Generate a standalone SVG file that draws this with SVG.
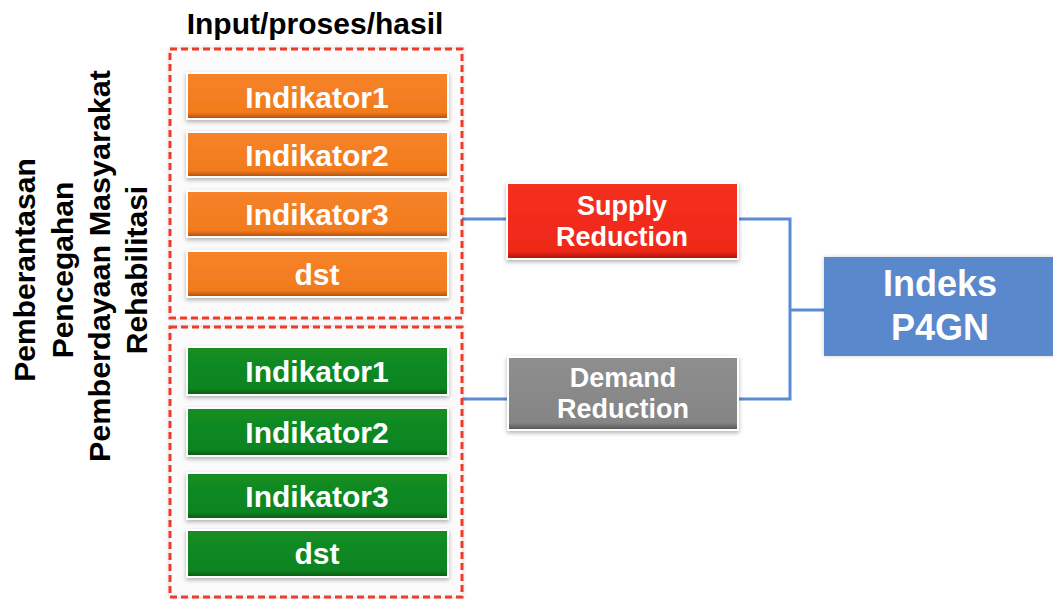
<svg xmlns="http://www.w3.org/2000/svg" width="1053" height="599" viewBox="0 0 1053 599">
  <style>
    .lbl { font-family: "Liberation Sans", Arial, sans-serif; font-weight: bold; fill: #ffffff; text-anchor: middle; }
    .dark { font-family: "Liberation Sans", Arial, sans-serif; font-weight: bold; fill: #000000; text-anchor: middle; font-size: 30px; }
    .row { font-size: 30px; }
    .mid { font-size: 27px; }
    .big { font-size: 36px; }
    .frame { fill: #fbfbfb; stroke: #ee3a2c; stroke-width: 3; stroke-dasharray: 7 4; }
    .wire { fill: none; stroke: #5b8bd1; stroke-width: 3; }
    .box { stroke: #ffffff; stroke-width: 2; filter: url(#shadow); }
  </style>
  <defs>
    <filter id="shadow" x="-10%" y="-20%" width="120%" height="150%">
      <feDropShadow dx="0" dy="2" stdDeviation="2" flood-color="#000000" flood-opacity="0.3"/>
    </filter>
    <filter id="haze" x="-5%" y="-5%" width="110%" height="110%">
      <feDropShadow dx="0" dy="0" stdDeviation="2" flood-color="#000000" flood-opacity="0.18"/>
    </filter>
    <linearGradient id="gOrange" x1="0" y1="0" x2="0" y2="1">
      <stop offset="0" stop-color="#f6832a"/>
      <stop offset="0.86" stop-color="#f27a1c"/>
      <stop offset="0.93" stop-color="#cf6414"/>
      <stop offset="1" stop-color="#a44e0e"/>
    </linearGradient>
    <linearGradient id="gGreen" x1="0" y1="0" x2="0" y2="1">
      <stop offset="0" stop-color="#138d23"/>
      <stop offset="0.86" stop-color="#0e8420"/>
      <stop offset="0.93" stop-color="#0a6c17"/>
      <stop offset="1" stop-color="#075510"/>
    </linearGradient>
    <linearGradient id="gRed" x1="0" y1="0" x2="0" y2="1">
      <stop offset="0" stop-color="#f5301f"/>
      <stop offset="0.9" stop-color="#ee2818"/>
      <stop offset="0.95" stop-color="#c91d10"/>
      <stop offset="1" stop-color="#a5150b"/>
    </linearGradient>
    <linearGradient id="gGray" x1="0" y1="0" x2="0" y2="1">
      <stop offset="0" stop-color="#8e8e8e"/>
      <stop offset="0.9" stop-color="#858585"/>
      <stop offset="0.95" stop-color="#6a6a6a"/>
      <stop offset="1" stop-color="#555555"/>
    </linearGradient>
  </defs>

  <rect width="1053" height="599" fill="#ffffff"/>

  <!-- column heading -->
  <text class="dark" x="315" y="34">Input/proses/hasil</text>

  <!-- vertical programme labels -->
  <g id="pillars">
    <text class="dark" transform="translate(35,270) rotate(-90)">Pemberantasan</text>
    <text class="dark" transform="translate(73,270) rotate(-90)">Pencegahan</text>
    <text class="dark" transform="translate(110,266) rotate(-90)" textLength="392" lengthAdjust="spacingAndGlyphs">Pemberdayaan Masyarakat</text>
    <text class="dark" transform="translate(147,270) rotate(-90)">Rehabilitasi</text>
  </g>

  <!-- connectors -->
  <g id="connectors">
    <path class="wire" d="M462 219 H507"/>
    <path class="wire" d="M462 399 H508"/>
    <path class="wire" d="M738 219 H790 V399 H738"/>
    <path class="wire" d="M790 310 H824"/>
  </g>

  <!-- supply-side indicator group -->
  <g id="group-supply">
    <rect class="frame" x="170" y="49" width="292" height="269" filter="url(#haze)"/>
    <g id="s-ind1"><rect class="box" x="187" y="73" width="261" height="46" fill="url(#gOrange)"/><text class="lbl row" x="317" y="108">Indikator1</text></g>
    <g id="s-ind2"><rect class="box" x="187" y="132" width="261" height="45" fill="url(#gOrange)"/><text class="lbl row" x="317" y="166">Indikator2</text></g>
    <g id="s-ind3"><rect class="box" x="187" y="191" width="261" height="46" fill="url(#gOrange)"/><text class="lbl row" x="317" y="225">Indikator3</text></g>
    <g id="s-dst"><rect class="box" x="187" y="251" width="261" height="46" fill="url(#gOrange)"/><text class="lbl row" x="317" y="285">dst</text></g>
  </g>

  <!-- demand-side indicator group -->
  <g id="group-demand">
    <rect class="frame" x="170" y="327" width="292" height="270" filter="url(#haze)"/>
    <g id="d-ind1"><rect class="box" x="187" y="347" width="261" height="48" fill="url(#gGreen)"/><text class="lbl row" x="317" y="382">Indikator1</text></g>
    <g id="d-ind2"><rect class="box" x="187" y="408" width="261" height="48" fill="url(#gGreen)"/><text class="lbl row" x="317" y="443">Indikator2</text></g>
    <g id="d-ind3"><rect class="box" x="187" y="473" width="261" height="46" fill="url(#gGreen)"/><text class="lbl row" x="317" y="507">Indikator3</text></g>
    <g id="d-dst"><rect class="box" x="187" y="530" width="261" height="47" fill="url(#gGreen)"/><text class="lbl row" x="317" y="564">dst</text></g>
  </g>

  <!-- reduction nodes -->
  <g id="supply-reduction">
    <rect class="box" x="507" y="183" width="231" height="76" fill="url(#gRed)"/>
    <text class="lbl mid" x="622" y="215">Supply</text>
    <text class="lbl mid" x="622" y="246">Reduction</text>
  </g>
  <g id="demand-reduction">
    <rect class="box" x="508" y="357" width="230" height="73" fill="url(#gGray)"/>
    <text class="lbl mid" x="623" y="387">Demand</text>
    <text class="lbl mid" x="623" y="418">Reduction</text>
  </g>

  <!-- index node -->
  <g id="indeks-p4gn">
    <rect x="824" y="257" width="240" height="99" fill="#5a88cc" filter="url(#haze)"/>
    <text class="lbl big" x="940" y="296">Indeks</text>
    <text class="lbl big" x="940" y="340">P4GN</text>
  </g>
</svg>
